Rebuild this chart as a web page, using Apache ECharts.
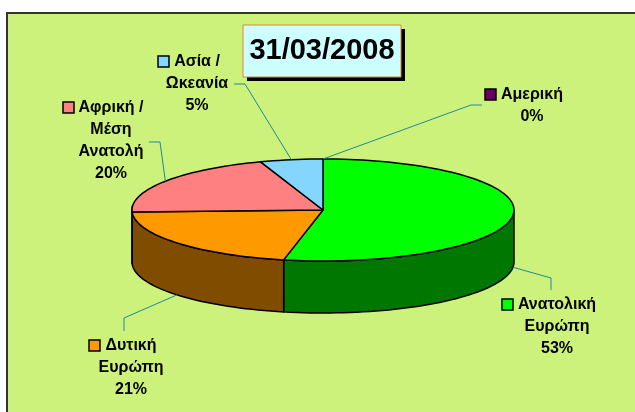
<!DOCTYPE html>
<html>
<head>
<meta charset="utf-8">
<script src="https://cdn.jsdelivr.net/npm/echarts@6/dist/echarts.min.js"></script>
<style>
html, body { margin: 0; padding: 0; background: #fff; }
#pie3d { width: 635px; height: 412px; }
</style>
</head>
<body>
<div id="pie3d"></div>
<script>
var categories = ['Ανατολική\nΕυρώπη', 'Δυτική\nΕυρώπη', 'Αφρική /\nΜέση\nΑνατολή', 'Ασία /\nΩκεανία', 'Αμερική'];
var shares = [53.3, 21.1, 20.3, 5.3, 0];
var dateLabel = '31/03/2008';

var topColors = ['#00ff00', '#ff9900', '#ff8080', '#85d6ff', '#660066'];
var sideColors = ['#007700', '#7f4c00', '#804040', '#437090', '#330033'];

// ellipse of the pie top, and thickness of the side wall
var cx = 323, cy = 210, rx = 191, ry = 51, depth = 52;
// label: centre of first line; leader: elbow and end point
var labelAt = [[557, 305], [131, 346], [111, 108], [197, 62], [532, 95]];
var leaderAt = [[[551, 278], [551, 290]], [[124, 318], [124, 331]], [[160, 142], [149, 142]], [[245, 84], [234, 84]], [[471, 105], [482, 105]]];

var FONT = 'bold 16px "Liberation Sans", Arial, sans-serif';
var measure = document.createElement('canvas').getContext('2d');
measure.font = FONT;

var total = shares.reduce(function (a, b) { return a + b; }, 0);
var starts = [], acc = 0;
shares.forEach(function (v) { starts.push(acc / total * 360); acc += v; });

function pt(deg, dy) {
    var r = deg * Math.PI / 180;
    return [cx + rx * Math.sin(r), cy - ry * Math.cos(r) + (dy || 0)];
}
function arc(a, b, dy) {
    var pts = [], n = Math.max(1, Math.ceil((b - a) / 2));
    for (var i = 0; i <= n; i++) pts.push(pt(a + (b - a) * i / n, dy));
    return pts;
}

function renderItem(params, api) {
    var i = params.dataIndex;
    var v = api.value(0);
    var a = starts[i], b = a + v / total * 360;
    var children = [];

    // front wall (only the part facing the viewer)
    var s = Math.max(a, 90), e = Math.min(b, 270);
    if (e > s) {
        children.push({
            type: 'polygon',
            shape: { points: arc(s, e, 0).concat(arc(s, e, depth).reverse()) },
            style: { fill: sideColors[i], stroke: '#000', lineWidth: 1.5 }
        });
    }
    // top face
    if (b > a) {
        children.push({
            type: 'polygon',
            shape: { points: [[cx, cy]].concat(arc(a, b, 0)) },
            style: { fill: topColors[i], stroke: '#000', lineWidth: 1.5, lineJoin: 'round' }
        });
    }

    // leader line
    var m = (a + b) / 2;
    var anchor = Math.cos(m * Math.PI / 180) < 0 ? pt(m, depth) : pt(m, 0);
    children.push({
        type: 'polyline',
        shape: { points: [anchor, leaderAt[i][0], leaderAt[i][1]] },
        style: { stroke: '#1f8a99', lineWidth: 1, fill: null }
    });

    // label text + legend key
    var text = categories[i] + '\n' + Math.round(v) + '%';
    var w1 = measure.measureText(text.split('\n')[0]).width;
    var lx = labelAt[i][0], ly = labelAt[i][1];
    children.push({
        type: 'rect',
        shape: { x: Math.round(lx - w1 / 2 - 16), y: Math.round(ly - 6), width: 11, height: 11 },
        style: { fill: topColors[i], stroke: '#000', lineWidth: 1.5 }
    });
    children.push({
        type: 'text',
        x: lx,
        y: ly - 11,
        style: {
            text: text,
            align: 'center',
            verticalAlign: 'top',
            font: FONT,
            lineHeight: 22,
            fill: '#000'
        }
    });

    return { type: 'group', children: children };
}

var myChart = echarts.init(document.getElementById('pie3d'));

option = {
    backgroundColor: '#ffffff',
    animation: false,
    graphic: [
        {
            type: 'rect',
            z: -10,
            shape: { x: 7, y: 13, width: 640, height: 420 },
            style: { fill: '#ccf27c', stroke: '#333333', lineWidth: 2 }
        },
        {
            type: 'rect',
            z: 10,
            shape: { x: 247, y: 29, width: 158, height: 52 },
            style: { fill: '#000000' }
        },
        {
            type: 'rect',
            z: 11,
            shape: { x: 243, y: 25, width: 158, height: 52 },
            style: { fill: '#ccffff', stroke: '#e8822a', lineWidth: 1 }
        },
        {
            type: 'text',
            z: 12,
            x: 322,
            y: 51,
            style: {
                text: dateLabel,
                align: 'center',
                verticalAlign: 'middle',
                font: 'bold 29px "Liberation Sans", Arial, sans-serif',
                fill: '#000'
            }
        }
    ],
    series: [
        {
            type: 'custom',
            coordinateSystem: 'none',
            renderItem: renderItem,
            data: shares.map(function (v, i) { return { name: categories[i], value: [v] }; })
        }
    ]
};

myChart.setOption(option);
</script>
</body>
</html>
